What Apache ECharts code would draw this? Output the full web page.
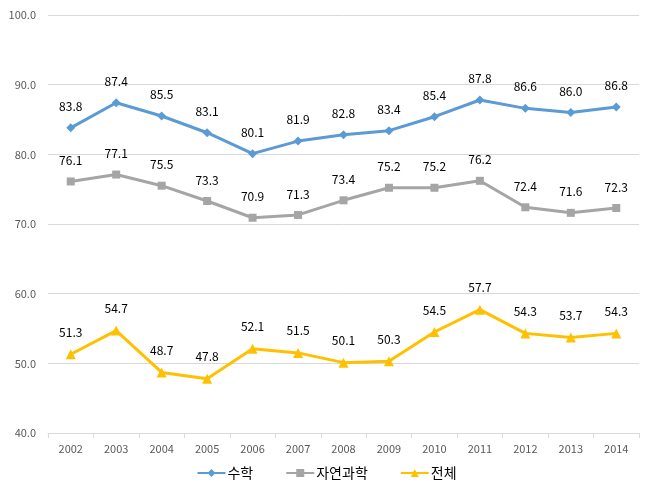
<!DOCTYPE html>
<html><head><meta charset="utf-8">
<script src="https://cdn.jsdelivr.net/npm/echarts@6/dist/echarts.min.js"></script>
<style>html,body{margin:0;padding:0;background:#fff}#c{width:653px;height:495px}</style>
</head><body><div id="c"></div>
<script>
const categories = ['2002','2003','2004','2005','2006','2007','2008','2009','2010','2011','2012','2013','2014'];
const math = [83.8, 87.4, 85.5, 83.1, 80.1, 81.9, 82.8, 83.4, 85.4, 87.8, 86.6, 86.0, 86.8];
const science = [76.1, 77.1, 75.5, 73.3, 70.9, 71.3, 73.4, 75.2, 75.2, 76.2, 72.4, 71.6, 72.3];
const total = [51.3, 54.7, 48.7, 47.8, 52.1, 51.5, 50.1, 50.3, 54.5, 57.7, 54.3, 53.7, 54.3];
const names = ['수학', '자연과학', '전체'];

const font = '"Malgun Gothic","Noto Sans CJK KR","Liberation Sans",sans-serif';
function mk(name, data, color, symbol, size) {
  return {
    name, type: 'line', data, symbol, symbolSize: size,
    lineStyle: { color, width: 3 }, itemStyle: { color },
    label: { show: true, position: 'top', distance: 11, color: '#000', fontSize: 12, fontFamily: font,
      formatter: p => p.value.toFixed(1) }
  };
}
const chart = echarts.init(document.getElementById('c'));
chart.setOption({
  animation: false,
  grid: { left: 48, right: 14, top: 15, bottom: 62 },
  legend: {
    bottom: 10, left: 'center', itemWidth: 28, itemHeight: 10, itemGap: 32,
    textStyle: { fontSize: 14, color: '#000', fontFamily: font, padding: [0, 0, 0, -3] },
    data: names
  },
  xAxis: {
    type: 'category', data: categories, boundaryGap: true,
    axisLine: { lineStyle: { color: '#d9d9d9' } },
    axisTick: { show: true, length: 5, lineStyle: { color: '#d9d9d9' } },
    axisLabel: { color: '#595959', fontSize: 11, fontFamily: font, margin: 10 }
  },
  yAxis: {
    type: 'value', min: 40, max: 100, interval: 10,
    axisLine: { show: false }, axisTick: { show: false },
    splitLine: { lineStyle: { color: '#d9d9d9' } },
    axisLabel: { color: '#595959', fontSize: 11, fontFamily: font, margin: 12, formatter: v => v.toFixed(1) }
  },
  series: [
    mk(names[0], math, '#5B9BD5', 'diamond', 9),
    mk(names[1], science, '#A5A5A5', 'rect', 8),
    mk(names[2], total, '#FFC000', 'triangle', 10)
  ]
});
</script></body></html>
